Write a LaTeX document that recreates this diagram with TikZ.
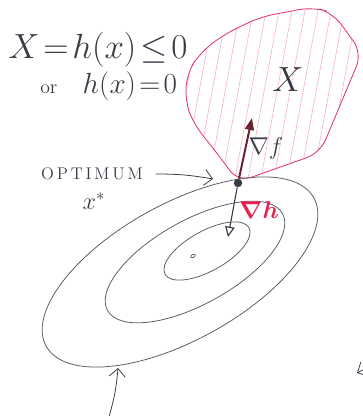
\documentclass[tikz,border=0pt]{standalone}
\usepackage{amsmath}
\usepackage{amssymb}
\usepackage{tikz}
\usetikzlibrary{arrows.meta,positioning,calc}
\definecolor{ink}{HTML}{3A3A46}
\definecolor{pen}{HTML}{5A5A66}
\definecolor{blobred}{HTML}{E0386A}
\definecolor{hatchred}{HTML}{F3AFC3}
\definecolor{darkred}{HTML}{6E1F2E}
\definecolor{gradred}{HTML}{E8224E}
\tikzset{
  contour/.style={draw=pen, line width=.55pt},
  blob/.style={draw=blobred, line width=.6pt, rounded corners=10pt},
  hatchline/.style={draw=hatchred, line width=.4pt},
  hand/.style={text=ink, inner sep=0pt},
  pointer/.style={-{Straight Barb[length=2mm]}, draw=ink, line width=.55pt},
  gradf/.style={-{Triangle[length=3mm,width=2.2mm]}, draw=darkred, line width=1.4pt},
  gradh/.style={-{Triangle[open,length=2.6mm,width=2.4mm]}, draw=ink, line width=.8pt},
  dot/.style={circle, fill=ink, inner sep=0pt, minimum size=6pt},
}
\begin{document}
\begin{tikzpicture}[x=0.025cm, y=-0.025cm]
  \clip (0,0) rectangle (363,416);
  % feasible set
  \draw[blob, path picture={
      \foreach \x in {140,153,...,380}
        \draw[hatchline] (\x,200) -- ++(37,-200);
    }]
    (187,73) -- (200,53) -- (223,35) -- (260,17) -- (313,7) -- (333,13) -- (362,53)
    -- (320,153) -- (238,182) -- (220,157) -- (193,123) -- (185,100) -- cycle;
  \node[hand, font=\fontsize{30}{30}\selectfont] (setx) at (288,80) {$X$};

  % level sets
  \draw[contour, rotate around={29:(180,272)}] (180,272) ellipse (153 and 68);
  \draw[contour, rotate around={29:(195,262)}] (195,262) ellipse (100 and 42);
  \draw[contour, rotate around={29:(207,251)}] (207,251) ellipse (48 and 20);
  \draw[contour, rotate around={29:(193,256)}] (193,256) ellipse (2.5 and 1.5);

  \node[hand, anchor=west, font=\fontsize{23}{26}\selectfont] (cons) at (8,50)
    {$X\!=\!h(x)\!\leq\!0$};
  \node[hand, anchor=west, font=\fontsize{20}{22}\selectfont] (cons2) at (40,86)
    {{\fontsize{14}{16}\selectfont or}\hspace{18pt}$h(x)\!=\!0$};

  \node[dot] (opt) at (238,183) {};
  \coordinate (ftip) at (252,118);
  \coordinate (htip) at (228,237);
  \draw[gradf] (opt) -- (ftip);
  \draw[gradh] (opt) -- (htip);
  \node[hand, font=\fontsize{17}{20}\selectfont] (flabel) at (266,148) {$\nabla f$};
  \node[font=\fontsize{19}{22}\selectfont, text=gradred, inner sep=0pt] (hlabel) at (259,210) {$\boldsymbol{\nabla h}$};

  \node[hand, font=\fontsize{12}{14}\selectfont] (optlabel) at (92,174)
    {O\hspace{2pt}P\hspace{2pt}T\hspace{2pt}I\hspace{2pt}M\hspace{2pt}U\hspace{2pt}M};
  \node[hand, font=\fontsize{18}{20}\selectfont] (xstar) at (94,201) {$x^{*}$};
  \coordinate (optend) at (213,179);
  \draw[pointer] ([xshift=9pt]optlabel.east) to[bend left=5] (optend);

  % arrows from below
  \coordinate (lowstart) at (108,420);
  \coordinate (lowend) at (118,368);
  \draw[pointer] (lowstart) to[bend right=6] (lowend);
  \coordinate (rightstart) at (378,362);
  \coordinate (rightend) at (357,373);
  \draw[pointer] (rightstart) -- (rightend);
\end{tikzpicture}
\end{document}
